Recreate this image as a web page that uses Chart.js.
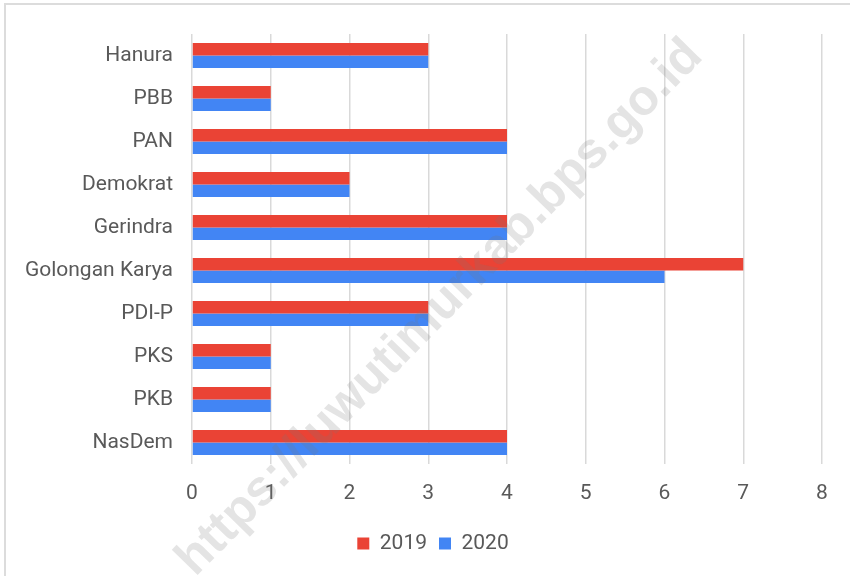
<!DOCTYPE html>
<html>
<head>
<meta charset="utf-8">
<script src="https://cdn.jsdelivr.net/npm/chart.js@4"></script>
<style>
  html, body { margin: 0; padding: 0; background: #fff; }
  body { width: 850px; height: 576px; position: relative; overflow: hidden; }
  .frame { position: absolute; left: 4px; top: 3px; width: 900px; height: 700px; border: 2px solid #dcdcdc; }
  #wrap { position: absolute; left: 0; top: 0; width: 850px; height: 576px; }
</style>
</head>
<body>
<div class="frame"></div>
<div id="wrap"><canvas id="partyChart"></canvas></div>
<script>
document.addEventListener("DOMContentLoaded", function () {

    // partai politik (urut dari atas ke bawah)
    const parties = [
        'Hanura', 'PBB', 'PAN', 'Demokrat', 'Gerindra',
        'Golongan Karya', 'PDI-P', 'PKS', 'PKB', 'NasDem'
    ];
    const seats2019 = [3, 1, 4, 2, 4, 7, 3, 1, 1, 4];
    const seats2020 = [3, 1, 4, 2, 4, 6, 3, 1, 1, 4];
    const seriesNames = ['2019', '2020'];
    const xTicks = [0, 1, 2, 3, 4, 5, 6, 7, 8];

    const watermarkText = 'https://luwutimurkab.bps.go.id';

    // watermark drawn over the chart
    const watermark = {
        id: 'watermark',
        afterDraw(chart) {
            const c = chart.ctx;
            c.save();
            c.translate(440, 308);
            c.rotate(-45.6 * Math.PI / 180);
            c.font = 'bold 50px "Liberation Sans", Arial, sans-serif';
            c.fillStyle = 'rgba(120,120,120,0.2)';
            c.textAlign = 'center';
            c.textBaseline = 'middle';
            c.fillText(watermarkText, 0, 0);
            c.restore();
        }
    };

    // legend in the original sits a bit right of the canvas centre
    const legendShift = {
        id: 'legendShift',
        afterLayout(chart) {
            if (chart.legend) {
                chart.legend.left += 22;
                chart.legend.right += 22;
            }
        }
    };

    const ctx = document.getElementById('partyChart').getContext('2d');
    new Chart(ctx, {
        type: 'bar',
        data: {
            labels: parties,
            datasets: [
                {
                    label: seriesNames[0],
                    data: seats2019,
                    backgroundColor: '#EA4335',
                    borderWidth: 0
                },
                {
                    label: seriesNames[1],
                    data: seats2020,
                    backgroundColor: '#4285F4',
                    borderWidth: 0
                }
            ]
        },
        options: {
            indexAxis: 'y',
            responsive: true,
            maintainAspectRatio: false,
            animation: false,
            categoryPercentage: 0.58,
            barPercentage: 1.0,
            layout: { padding: { top: 34, right: 28, left: 0, bottom: 12 } },
            scales: {
                x: {
                    min: 0,
                    max: 8,
                    afterBuildTicks: (axis) => { axis.ticks = xTicks.map(v => ({ value: v })); },
                    afterFit: (axis) => { axis.height = 57; },
                    grid: { color: '#d9d9d9', lineWidth: 1.5, drawTicks: false },
                    border: { display: false },
                    ticks: {
                        padding: 17,
                        color: '#595959',
                        font: { family: 'Roboto, "Liberation Sans", Arial', size: 21 }
                    }
                },
                y: {
                    afterFit: (axis) => { axis.width = 192; },
                    grid: { display: false, drawTicks: false },
                    border: { display: false },
                    ticks: {
                        padding: 19,
                        color: '#595959',
                        font: { family: 'Roboto, "Liberation Sans", Arial', size: 21 }
                    }
                }
            },
            plugins: {
                legend: {
                    position: 'bottom',
                    labels: {
                        boxWidth: 12,
                        boxHeight: 12,
                        padding: 12,
                        color: '#595959',
                        font: { family: 'Roboto, "Liberation Sans", Arial', size: 21 }
                    }
                },
                tooltip: { enabled: false }
            }
        },
        plugins: [watermark, legendShift]
    });
});
</script>
</body>
</html>
